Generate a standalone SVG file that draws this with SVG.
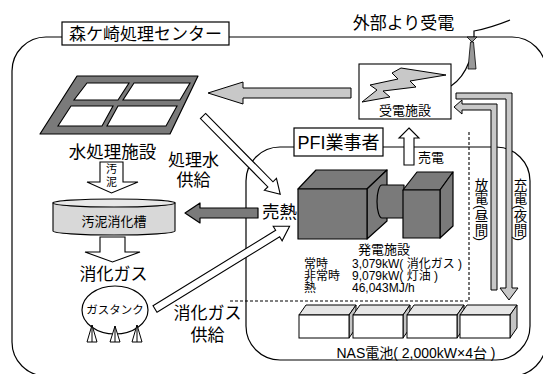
<svg xmlns="http://www.w3.org/2000/svg" width="543" height="374" viewBox="0 0 543 374">
  <defs>
    <style>
      text { font-family: "Liberation Sans", "Noto Sans CJK JP", sans-serif; fill: #000; }
      .ln { fill: none; stroke: #000; stroke-width: 1.2; }
      .lbl { fill: #fff; stroke: #000; stroke-width: 1.2; }
      .big { font-size: 17px; }
      .mid { font-size: 13px; }
      .gray { fill: #7a7a7a; stroke: #000; stroke-width: 1.2; stroke-linejoin: round; }
      .lgray { fill: #c8c8c8; stroke: #000; stroke-width: 1; }
      .wh { fill: #fff; stroke: #000; stroke-width: 1.1; stroke-linejoin: miter; }
      .dash { fill: none; stroke: #000; stroke-width: 1.1; stroke-dasharray: 3 2; }
      .vt { writing-mode: vertical-rl; font-size: 13.5px; }
      .spec { font-size: 12px; }
    </style>
  </defs>

  <rect width="543" height="374" fill="#fff"/>

  <!-- site boundaries -->
  <g id="boundaries">
    <rect class="ln" x="12" y="37" width="534" height="339" rx="34" ry="34"/>
    <rect class="ln" x="246" y="147" width="284" height="213" rx="34" ry="34"/>
    <path class="dash" d="M230 301 H469 V132"/>
  </g>

  <!-- titles -->
  <g id="center-title">
    <rect class="lbl" x="62" y="22" width="167" height="23"/>
    <text class="big" x="145.5" y="40" text-anchor="middle">森ケ崎処理センター</text>
  </g>
  <g id="pfi-title">
    <rect class="lbl" x="294" y="128" width="89" height="28"/>
    <text x="338.5" y="149" font-size="18" text-anchor="middle">PFI業事者</text>
  </g>

  <!-- incoming power line and antenna -->
  <g id="antenna">
    <path class="ln" d="M474 37 V31 Q490 28 510 20" stroke-width="1"/>
    <path class="ln" d="M469 62 Q463 78 451 86" stroke-width="1"/>
    <path d="M467 37 L477 37 L472 42 Z" fill="#999" stroke="#000" stroke-width="0.8"/>
    <path d="M470.5 42 L473.5 42 L476 69 L468 69 Z" fill="#999" stroke="#000" stroke-width="0.8"/>
    <text class="big" x="403.5" y="29" text-anchor="middle">外部より受電</text>
  </g>

  <!-- receiving station -->
  <g id="receiving">
    <rect class="wh" x="359" y="64" width="92" height="55"/>
    <polygon class="lgray" points="401,68 446,75 410,81 416,87 383,91 390,97 362,102 377,90 370,85 398,79 392,73"/>
    <text class="mid" x="405" y="115" text-anchor="middle">受電施設</text>
  </g>

  <!-- water treatment facility -->
  <g id="water-treatment">
    <polygon class="gray" points="77,76 198,76 170,134 40,134"/>
    <polygon class="wh" points="87,83 129,83 118,100 74,100"/>
    <polygon class="wh" points="134,83 190,83 180,100 123,100"/>
    <polygon class="wh" points="71,106 113,106 102,126 58,126"/>
    <polygon class="wh" points="118,106 177,106 166,126 107,126"/>
    <text x="112.5" y="158" font-size="17.5" text-anchor="middle">水処理施設</text>
  </g>

  <!-- sludge digester -->
  <g id="digester">
    <path d="M53 203 V231 A61 4 0 0 0 175 231 V203 Z" fill="#d8d8d8" stroke="#000" stroke-width="1.1"/>
    <ellipse cx="114" cy="203" rx="61" ry="4" fill="#e8e8e8" stroke="#000" stroke-width="1.1"/>
    <text class="mid" x="114" y="226" text-anchor="middle">汚泥消化槽</text>
  </g>

  <!-- gas tank -->
  <g id="gas-tank">
    <ellipse cx="115" cy="310" rx="33" ry="24" fill="#fff" stroke="#000" stroke-width="1.2"/>
    <text x="115" y="314" font-size="11.5" text-anchor="middle">ガスタンク</text>
    <g fill="#fff" stroke="#000" stroke-width="1">
      <path d="M92 325 L87 342 H97 Z M92 325 V342"/>
      <path d="M115 326 L110 342 H120 Z M115 326 V342"/>
      <path d="M137 325 L132 342 H142 Z M137 325 V342"/>
    </g>
  </g>

  <!-- power plant -->
  <g id="generator">
    <polygon class="gray" points="298,189 316,170 387,170 367,189"/>
    <polygon class="gray" points="367,189 387,170 387,221 367,239"/>
    <rect class="gray" x="298" y="189" width="69" height="50"/>
    <path class="gray" d="M404 185 H382 A5 16.5 0 0 0 382 218 H404 Z"/>
    <polygon class="gray" points="403,190 417,172 453,172 440,190"/>
    <polygon class="gray" points="440,190 453,172 453,226 440,238"/>
    <rect class="gray" x="403" y="190" width="37" height="48"/>
    <text class="mid" x="384" y="254" text-anchor="middle">発電施設</text>
    <g class="spec">
      <text x="304" y="268">常時</text>
      <text x="352" y="268">3,079kW( 消化ガス )</text>
      <text x="304" y="280">非常時</text>
      <text x="352" y="280">9,079kW( 灯油 )</text>
      <text x="304" y="292">熱</text>
      <text x="352" y="292">46,043MJ/h</text>
    </g>
  </g>

  <!-- NAS batteries -->
  <g id="nas">
    <g stroke="#000" stroke-width="1">
      <polygon points="299,315 306,305 356,305 349,315" fill="#e6e6e6"/>
      <polygon points="349,315 356,305 356,328 349,338" fill="#c4c4c4"/>
      <rect x="299" y="315" width="50" height="23" fill="#fff"/>
      <polygon points="353,315 360,305 410,305 403,315" fill="#e6e6e6"/>
      <polygon points="403,315 410,305 410,328 403,338" fill="#c4c4c4"/>
      <rect x="353" y="315" width="50" height="23" fill="#fff"/>
      <polygon points="407,315 414,305 464,305 457,315" fill="#e6e6e6"/>
      <polygon points="457,315 464,305 464,328 457,338" fill="#c4c4c4"/>
      <rect x="407" y="315" width="50" height="23" fill="#fff"/>
      <polygon points="460,315 467,305 517,305 510,315" fill="#e6e6e6"/>
      <polygon points="510,315 517,305 517,328 510,338" fill="#c4c4c4"/>
      <rect x="460" y="315" width="50" height="23" fill="#fff"/>
    </g>
    <text x="416" y="358" font-size="14" text-anchor="middle">NAS電池( 2,000kW×4台 )</text>
  </g>

  <!-- connectors -->
  <g id="connectors">
    <!-- power to water treatment -->
    <polygon class="lgray" points="208,93 243,82 243,88 351,88 351,98 243,98 243,104"/>
    <!-- charge (night) -->
    <polygon class="lgray" points="456,93 512,93 512,288 518,288 509,300 500,288 506,288 506,99 456,99"/>
    <!-- discharge (day) -->
    <polygon class="lgray" points="454,107 462,100 462,104 497,104 497,290 491,290 491,110 462,110 462,114"/>
    <!-- sale of power -->
    <polygon class="wh" points="409,128 419,138 414,138 414,165 404,165 404,138 399,138"/>
    <!-- sale of heat -->
    <polygon class="gray" points="185,213 200,203 200,208 258,208 258,218 200,218 200,223"/>
    <!-- sludge down -->
    <polygon class="wh" points="100,162 123,162 123,182 138,182 111.5,193 87,182 100,182"/>
    <!-- gas down -->
    <polygon class="wh" points="100,237 125,237 125,252 140,252 112.5,262 85,252 100,252"/>
    <!-- treated water supply -->
    <g transform="translate(203 116) rotate(45.4)">
      <polygon class="wh" points="0,-3.6 96,-3.6 96,-8.5 110,0 96,8.5 96,3.6 0,3.6"/>
    </g>
    <!-- digestion gas supply -->
    <g transform="translate(155 309) rotate(-31.6)">
      <polygon class="wh" points="0,-3.8 144,-3.8 144,-8.5 158,0 144,8.5 144,3.8 0,3.8"/>
    </g>
  </g>

  <!-- labels -->
  <g id="labels">
    <text class="big" x="193.5" y="166" text-anchor="middle">処理水</text>
    <text class="big" x="193.5" y="186" text-anchor="middle">供給</text>
    <text x="111.5" y="173" font-size="11" text-anchor="middle">汚</text>
    <text x="111.5" y="186" font-size="11" text-anchor="middle">泥</text>
    <text x="279.5" y="218" font-size="17.5" text-anchor="middle">売熱</text>
    <text class="mid" x="431" y="162" text-anchor="middle">売電</text>
    <text class="big" x="113.5" y="280" text-anchor="middle">消化ガス</text>
    <text class="big" x="207.5" y="319" text-anchor="middle">消化ガス</text>
    <text class="big" x="207.5" y="341" text-anchor="middle">供給</text>
    <text class="vt" x="480" y="178">放電(昼間)</text>
    <text class="vt" x="519" y="178">充電(夜間)</text>
  </g>
</svg>
